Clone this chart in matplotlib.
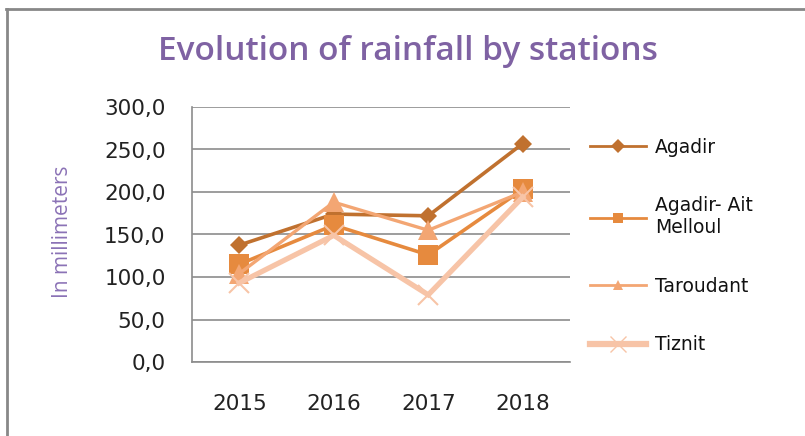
import matplotlib.pyplot as plt
from matplotlib.lines import Line2D

# rainfall (mm) by station
years = ['2015', '2016', '2017', '2018']
agadir = [137.5, 174.0, 172.0, 257.0]
ait_melloul = [115.0, 161.0, 126.0, 203.0]
taroudant = [104.0, 188.0, 155.0, 200.0]
tiznit = [93.0, 149.0, 79.0, 194.0]

stations = ['Agadir', 'Agadir- Ait\nMelloul', 'Taroudant', 'Tiznit']
colors = ['#C0712F', '#E68A3E', '#F3A673', '#F7C4A7']
markers = ['D', 's', '^', 'x']

fig = plt.figure(figsize=(8.05, 4.36), dpi=100)
ax = fig.add_axes([192 / 805, 1 - 362 / 436, 378 / 805, 255 / 436])

x = range(len(years))
series = [agadir, ait_melloul, taroudant, tiznit]
line_w = [2.6, 2.6, 2.4, 3.8]
mark_s = [9, 14, 14, 14]
for vals, c, m, lw, ms in zip(series, colors, markers, line_w, mark_s):
    mew = 1.5 if m == 'x' else 0
    ax.plot(x, vals, color=c, lw=lw, marker=m, ms=ms, mew=mew,
            mec=c, mfc=c, solid_joinstyle='miter')

ax.set_xlim(-0.5, 3.5)
ax.set_ylim(0, 300)
ax.set_yticks(range(0, 301, 50))
ax.set_yticklabels(['%d,0' % v for v in range(0, 301, 50)])
ax.set_xticks(list(x))
ax.set_xticklabels(years)
ax.tick_params(length=0, labelsize=15.5, labelcolor='#222222')
ax.tick_params(axis='y', pad=19)
ax.tick_params(axis='x', pad=23)
ax.grid(axis='y', color='#8c8c8c', lw=1.2)
ax.set_axisbelow(True)
for s in ['top', 'right']:
    ax.spines[s].set_visible(False)
for s in ['left', 'bottom']:
    ax.spines[s].set_color('#8c8c8c')
    ax.spines[s].set_linewidth(1.2)

fig.text(62 / 805, 1 - 232 / 436, 'In millimeters', rotation=90,
         ha='center', va='center', fontsize=15, color='#8B72B6',
         family='Open Sans')
fig.text(408 / 805, 1 - 52 / 436, 'Evolution of rainfall by stations',
         ha='center', va='center', fontsize=24, color='#7F62A3',
         family='Open Sans', weight='semibold')

# legend handles are drawn smaller than the plot markers
handles = []
for c, m, lw in zip(colors, markers, [2, 2, 2, 4.5]):
    mew = 1.0 if m == 'x' else 0
    ms = 11 if m == 'x' else 7
    handles.append(Line2D([], [], color=c, lw=lw, marker=m, ms=ms,
                          mew=mew, mec=c, mfc=c))
fig.legend(handles, stations, loc='upper left',
           bbox_to_anchor=(590 / 805, 1 - 138 / 436), frameon=False,
           borderpad=0, borderaxespad=0, fontsize=13.5, labelspacing=2.1,
           handlelength=3.0, handletextpad=0.45, labelcolor='#111111')

# frame edges visible at the top and left of the picture
fig.add_artist(Line2D([6 / 805, 1], [1 - 9 / 436, 1 - 9 / 436],
                      transform=fig.transFigure, color='#888888', lw=2))
fig.add_artist(Line2D([7 / 805, 7 / 805], [0, 1 - 9 / 436],
                      transform=fig.transFigure, color='#888888', lw=2))

fig.savefig('out.png', dpi=100)
